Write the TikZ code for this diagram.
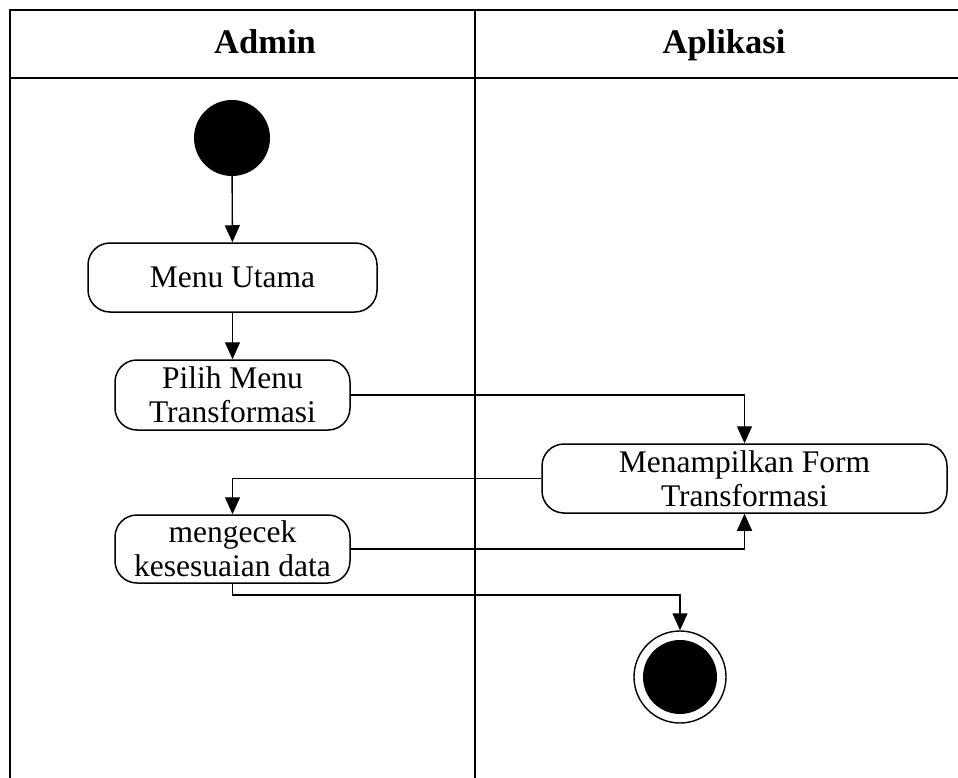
\documentclass[tikz,border=0pt]{standalone}
\usepackage{fontspec}
\setmainfont{Liberation Serif}
\usetikzlibrary{arrows.meta,positioning}

\tikzset{
  lane/.style={line width=1.4pt},
  activity/.style={draw, line width=1.5pt, rounded corners=22pt, inner sep=0pt,
    align=center, font=\fontsize{31.5}{34}\selectfont},
  flow/.style={line width=1.4pt, -{Triangle[width=15pt,length=17pt]}},
  initial/.style={circle, fill=black, inner sep=0pt, minimum size=76pt},
  final/.style={circle, draw, line width=1.4pt, inner sep=0pt, minimum size=92pt},
  finalcore/.style={circle, fill=black, inner sep=0pt, minimum size=74pt},
  header/.style={anchor=base, font=\bfseries\fontsize{34.5}{38}\selectfont}
}

\begin{document}
\begin{tikzpicture}[x=1pt,y=-1pt]
\useasboundingbox (0,0) rectangle (958,778);

% swimlane frame
\draw[lane] (10,778) -- (10,10) -- (958,10);
\draw[lane] (10,78) -- (958,78);
\draw[lane] (475,10) -- (475,778);

\node[header] (hadmin) at (265,54) {Admin};
\node[header] (happ) at (724,54) {Aplikasi};

% activities
\node[initial] (start) at (232,138) {};
\node[activity, minimum width=289pt, minimum height=69pt] (menu) at (232.5,277.5) {Menu Utama};
\node[activity, minimum width=235pt, minimum height=70pt] (pilih) at (232.5,395) {Pilih Menu\\Transformasi};
\node[activity, minimum width=405pt, minimum height=69pt] (tampil) at (744.5,478.5) {Menampilkan Form\\Transformasi};
\node[activity, minimum width=235pt, minimum height=68pt] (cek) at (232.5,549) {mengecek\\kesesuaian data};
\node[final] (end) at (680,677) {};
\node[finalcore] (endcore) at (end.center) {};

% control flow
\draw[flow] (start) -- (menu);
\draw[flow] (menu) -- (pilih);
\draw[flow] (pilih.east) -| (tampil.north);
\draw[flow] (tampil.west) -| (cek.north);
\draw[flow] (cek.east) -| (tampil.south);
\coordinate (turn) at (232.5,595);
\draw[flow] (cek.south) -- (turn) -| (end.north);
\end{tikzpicture}
\end{document}
